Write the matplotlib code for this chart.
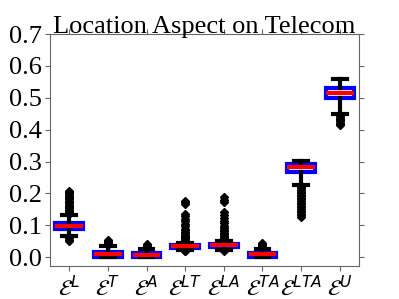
import matplotlib
matplotlib.use("Agg")
import matplotlib.pyplot as plt

plt.rcParams["mathtext.fontset"] = "dejavusans"

labels = [r"$\mathcal{E}^{L}$", r"$\mathcal{E}^{T}$", r"$\mathcal{E}^{A}$", r"$\mathcal{E}^{LT}$",
          r"$\mathcal{E}^{LA}$", r"$\mathcal{E}^{TA}$", r"$\mathcal{E}^{LTA}$", r"$\mathcal{E}^{U}$"]

# box statistics
med = [0.098, 0.010, 0.008, 0.034, 0.037, 0.009, 0.283, 0.514]
q1 = [0.090, 0.002, 0.002, 0.030, 0.032, 0.002, 0.266, 0.498]
q3 = [0.107, 0.016, 0.014, 0.038, 0.042, 0.014, 0.292, 0.531]
whislo = [0.067, 0.000, 0.000, 0.022, 0.024, 0.000, 0.225, 0.450]
whishi = [0.133, 0.035, 0.027, 0.046, 0.050, 0.027, 0.302, 0.558]

fl_L = [0.137, 0.141, 0.145, 0.149, 0.153, 0.157, 0.161, 0.165, 0.169, 0.173, 0.177,
        0.181, 0.185, 0.189, 0.193, 0.197, 0.201, 0.205, 0.209,
        0.063, 0.059, 0.055, 0.052]
fl_T = [0.039, 0.043, 0.047, 0.051, 0.055]
fl_A = [0.030, 0.033, 0.036, 0.039, 0.042]
fl_LT = [0.049, 0.052, 0.055, 0.058, 0.061, 0.064, 0.067, 0.071, 0.075, 0.080, 0.085,
         0.090, 0.097, 0.104, 0.112, 0.120, 0.128, 0.136, 0.166, 0.172, 0.176,
         0.020, 0.018]
fl_LA = [0.053, 0.056, 0.059, 0.062, 0.065, 0.068, 0.072, 0.076, 0.081, 0.086, 0.092,
         0.099, 0.107, 0.115, 0.124, 0.133, 0.143, 0.172, 0.180, 0.188,
         0.022, 0.020]
fl_TA = [0.031, 0.034, 0.037, 0.040, 0.044]
fl_LTA = [0.221, 0.216, 0.211, 0.206, 0.201, 0.196, 0.191, 0.186, 0.181, 0.176, 0.171,
          0.166, 0.161, 0.156, 0.151, 0.146, 0.141, 0.136, 0.131, 0.126]
fl_U = [0.446, 0.442, 0.438, 0.434, 0.430, 0.426, 0.422, 0.418, 0.414]
fliers = [fl_L, fl_T, fl_A, fl_LT, fl_LA, fl_TA, fl_LTA, fl_U]

stats = []
for i in range(len(labels)):
    stats.append(dict(med=med[i], q1=q1[i], q3=q3[i], whislo=whislo[i],
                      whishi=whishi[i], fliers=fliers[i], label=labels[i]))

fig = plt.figure(figsize=(3.99, 2.99), dpi=100)
ax = fig.add_axes([0.125, 0.11, 0.775, 0.776])

ax.bxp(stats, widths=0.72, patch_artist=True,
       boxprops=dict(facecolor="white", edgecolor="blue", linewidth=3),
       medianprops=dict(color="red", linewidth=3),
       whiskerprops=dict(color="black", linewidth=3),
       capprops=dict(color="black", linewidth=3),
       flierprops=dict(marker="D", markerfacecolor="black", markeredgecolor="black",
                       markersize=4))

ax.set_xlim(0.5, 8.5)
ax.set_ylim(-0.028, 0.7)
ax.set_yticks([0.0, 0.1, 0.2, 0.3, 0.4, 0.5, 0.6, 0.7])
ax.set_yticklabels(["0.0", "0.1", "0.2", "0.3", "0.4", "0.5", "0.6", "0.7"],
                   fontfamily="Liberation Serif", fontsize=19)
ax.tick_params(axis="x", labelsize=16, top=True, color="#666666", pad=3)
ax.tick_params(axis="y", right=True, color="#666666", pad=2)
for s in ax.spines.values():
    s.set_color("#666666")
ax.set_title("Location Aspect on Telecom", fontfamily="Liberation Serif", fontsize=19, pad=1)

fig.savefig("out.png", dpi=100)
